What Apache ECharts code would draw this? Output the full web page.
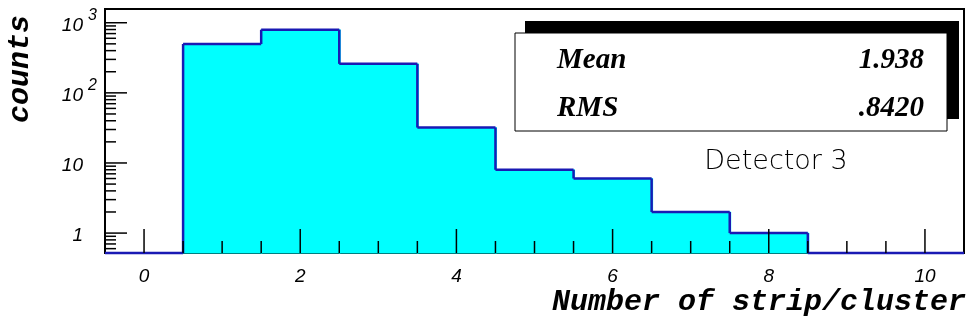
<!DOCTYPE html>
<html>
<head>
<meta charset="utf-8">
<script src="https://cdn.jsdelivr.net/npm/echarts@6/dist/echarts.min.js"></script>
<style>
  html, body { margin: 0; padding: 0; background: #fff; }
  #main { width: 974px; height: 326px; }
</style>
</head>
<body>
<div id="main"></div>
<script>
// histogram bins (centres) and counts
var binCenters = [0, 1, 2, 3, 4, 5, 6, 7, 8, 9, 10];
var counts = [0, 497, 795, 259, 32, 8, 6, 2, 1, 0, 0];

// axis ticks
var xTickValues = [0, 2, 4, 6, 8, 10];
var xTickText = ["0", "2", "4", "6", "8", "10"];
var yTickValues = [1, 10, 100, 1000];
var yTickText = ["1", "10", "10", "10"];
var yTickSup = ["", "", "2", "3"];

var statNames = ["Mean", "RMS"];
var statValues = ["1.938", ".8420"];

var xMin = -0.5, xMax = 10.5;
var yMin = 0.52, yMax = 1570;
var lineColor = "#1a1ab4";

function init_histo(container) {
  var chartDom = document.getElementById(container);
  var myChart = echarts.init(chartDom);

  // tick marks (ROOT style, inside the frame)
  var tickData = [];
  yTickValues.forEach(function (v) {
    tickData.push([xMin, v, 22, 0]);
  });
  // log minor ticks 2..9 of each decade
  [0.1, 1, 10, 100].forEach(function (d) {
    for (var k = 2; k <= 9; k++) {
      var v = k * d;
      if (v > yMin && v < yMax) tickData.push([xMin, v, 11, 0]);
    }
  });
  for (var t = 0; t <= 20; t++) {
    var xv = t * 0.5;
    if (xv % 2 === 0) tickData.push([xv, yMin, 0, -24]);
    else tickData.push([xv, yMin, 0, -12]);
  }

  var option = {
    animation: false,
    grid: {
      left: 105,
      right: 10,
      top: 9,
      bottom: 73,
      show: true,
      borderColor: "#000",
      borderWidth: 2,
      backgroundColor: "#fff",
    },
    xAxis: {
      type: "value",
      min: xMin,
      max: xMax,
      axisLine: { show: false },
      axisTick: { show: false },
      axisLabel: { show: false },
      splitLine: { show: false },
    },
    yAxis: {
      type: "log",
      logBase: 10,
      min: yMin,
      max: yMax,
      axisLine: { show: false },
      axisTick: { show: false },
      axisLabel: { show: false },
      splitLine: { show: false },
    },
    series: [
      {
        type: "custom",
        name: "histo",
        z: 2,
        data: binCenters.map(function (x, i) {
          return [x, counts[i]];
        }),
        renderItem: function (params, api) {
          var i = params.dataIndex;
          var x = api.value(0);
          var c = api.value(1);
          var top = Math.max(c, yMin);
          var prev = i > 0 ? Math.max(counts[i - 1], yMin) : yMin;
          var p0 = api.coord([x - 0.5, top]);
          var p1 = api.coord([x + 0.5, yMin]);
          var pp = api.coord([x - 0.5, prev]);
          var children = [];
          if (c > 0) {
            children.push({
              type: "rect",
              z2: 0,
              shape: { x: p0[0], y: p0[1], width: p1[0] - p0[0] + 1, height: p1[1] - p0[1] },
              style: { fill: "#00ffff", stroke: "#00ffff", lineWidth: 1 },
            });
          }
          children.push({
            type: "line",
            z2: 1,
            shape: { x1: p0[0], y1: p0[1], x2: p1[0], y2: p0[1] },
            style: { stroke: lineColor, lineWidth: 2.5 },
          });
          children.push({
            type: "line",
            z2: 1,
            shape: { x1: p0[0], y1: pp[1], x2: p0[0], y2: p0[1] },
            style: { stroke: lineColor, lineWidth: 2.5 },
          });
          return { type: "group", children: children };
        },
      },
      {
        type: "custom",
        name: "ticks",
        z: 5,
        silent: true,
        data: tickData,
        renderItem: function (params, api) {
          var p = api.coord([api.value(0), api.value(1)]);
          return {
            type: "line",
            shape: { x1: p[0], y1: p[1], x2: p[0] + api.value(2), y2: p[1] + api.value(3) },
            style: { stroke: "#000", lineWidth: 1.5 },
          };
        },
      },
      {
        type: "custom",
        name: "xlabels",
        silent: true,
        data: xTickValues.map(function (v, i) {
          return [v, yMin, i];
        }),
        renderItem: function (params, api) {
          var p = api.coord([api.value(0), yMin]);
          return {
            type: "text",
            x: p[0],
            y: p[1] + 24,
            style: {
              text: xTickText[api.value(2)],
              fontFamily: "Liberation Sans",
              fontStyle: "italic",
              fontSize: 19,
              fill: "#000",
              align: "center",
              verticalAlign: "middle",
            },
          };
        },
      },
      {
        type: "custom",
        name: "ylabels",
        silent: true,
        data: yTickValues.map(function (v, i) {
          return [xMin, v, i];
        }),
        renderItem: function (params, api) {
          var i = api.value(2);
          var p = api.coord([xMin, api.value(1)]);
          var children = [
            {
              type: "text",
              x: 83,
              y: p[1] + 3,
              style: {
                text: yTickText[i],
                fontFamily: "Liberation Sans",
                fontStyle: "italic",
                fontSize: 19,
                fill: "#000",
                align: "right",
                verticalAlign: "middle",
              },
            },
          ];
          if (yTickSup[i]) {
            children.push({
              type: "text",
              x: 88,
              y: p[1] - 7,
              style: {
                text: yTickSup[i],
                fontFamily: "Liberation Sans",
                fontStyle: "italic",
                fontSize: 16,
                fill: "#000",
                align: "left",
                verticalAlign: "middle",
              },
            });
          }
          return { type: "group", children: children };
        },
      },
    ],
    graphic: [
      // y title
      {
        type: "text",
        x: 20,
        y: 69,
        rotation: Math.PI / 2,
        style: {
          text: "counts",
          fontFamily: "Liberation Mono",
          fontWeight: "bold",
          fontStyle: "italic",
          fontSize: 30,
          fill: "#000",
          align: "center",
          verticalAlign: "middle",
        },
      },
      // x title
      {
        type: "text",
        x: 966,
        y: 302,
        style: {
          text: "Number of strip/cluster",
          fontFamily: "Liberation Mono",
          fontWeight: "bold",
          fontStyle: "italic",
          fontSize: 30,
          fill: "#000",
          align: "right",
          verticalAlign: "middle",
        },
      },
      // stats box shadow
      {
        type: "rect",
        z: 10,
        shape: { x: 525, y: 21, width: 434, height: 98 },
        style: { fill: "#000" },
      },
      {
        type: "rect",
        z: 11,
        shape: { x: 515, y: 33, width: 432, height: 98 },
        style: { fill: "#fff", stroke: "#000", lineWidth: 1 },
      },
      {
        type: "text",
        z: 12,
        x: 557,
        y: 61,
        style: {
          text: statNames[0],
          fontFamily: "Liberation Serif",
          fontWeight: "bold",
          fontStyle: "italic",
          fontSize: 29,
          fill: "#000",
          align: "left",
          verticalAlign: "middle",
        },
      },
      {
        type: "text",
        z: 12,
        x: 924,
        y: 61,
        style: {
          text: statValues[0],
          fontFamily: "Liberation Serif",
          fontWeight: "bold",
          fontStyle: "italic",
          fontSize: 29,
          fill: "#000",
          align: "right",
          verticalAlign: "middle",
        },
      },
      {
        type: "text",
        z: 12,
        x: 557,
        y: 109,
        style: {
          text: statNames[1],
          fontFamily: "Liberation Serif",
          fontWeight: "bold",
          fontStyle: "italic",
          fontSize: 29,
          fill: "#000",
          align: "left",
          verticalAlign: "middle",
        },
      },
      {
        type: "text",
        z: 12,
        x: 924,
        y: 109,
        style: {
          text: statValues[1],
          fontFamily: "Liberation Serif",
          fontWeight: "bold",
          fontStyle: "italic",
          fontSize: 29,
          fill: "#000",
          align: "right",
          verticalAlign: "middle",
        },
      },
      {
        type: "text",
        z: 12,
        x: 776,
        y: 162,
        style: {
          text: "Detector 3",
          fontFamily: "DejaVu Sans",
          fontWeight: 200,
          fontSize: 27,
          fill: "#000",
          align: "center",
          verticalAlign: "middle",
        },
      },
    ],
  };

  window.addEventListener("resize", function () {
    myChart.resize();
  });
  myChart.setOption(option);
}

init_histo("main");
</script>
</body>
</html>
